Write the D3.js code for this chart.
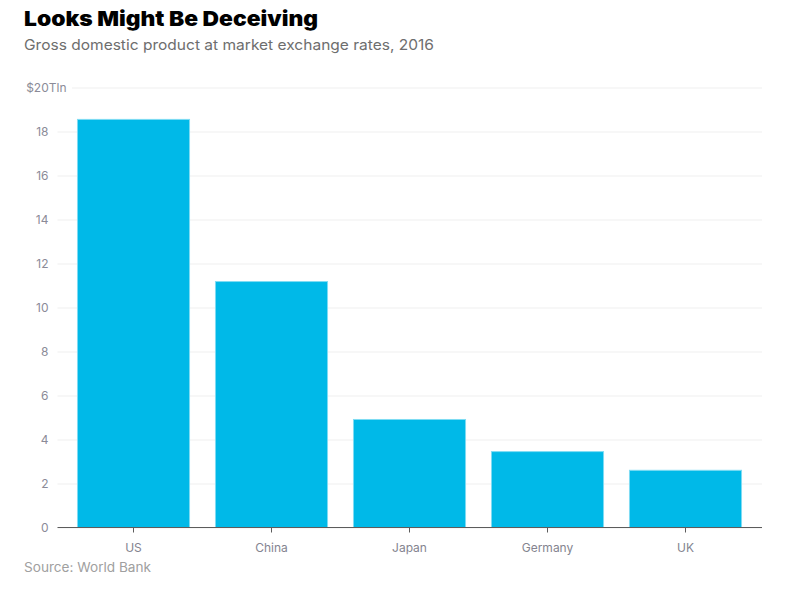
<!DOCTYPE html>
<html lang="en">
<head>
    <meta charset="utf-8">
    <title>Looks Might Be Deceiving</title>
    <script src="https://cdn.jsdelivr.net/npm/d3@7"></script>
    <style>
        body { margin: 0; padding: 0; background-color: #fff; }
        svg { display: block; }
        text { font-family: Inter, sans-serif; }
        .chart-title { font-size: 20.5px; font-weight: 900; fill: #000; }
        .chart-subtitle { font-size: 14.5px; fill: #6e6e6e; }
        .source { font-size: 13px; fill: #a0a0a0; }
        .y-axis text { font-size: 12px; fill: #8b8b98; }
        .x-axis text { font-size: 12px; fill: #84848f; }
        .y-axis .domain { display: none; }
        .y-axis line { stroke: #efefef; }
        .x-axis line, .x-axis .domain { stroke: #5c5c5c; }
        .bar { fill: #00b9e8; stroke: #7fdcf3; stroke-width: 1; }
    </style>
</head>
<body>
    <svg width="795" height="596" id="chart"></svg>
    <script>
        var categories = ["US", "China", "Japan", "Germany", "UK"];
        var gdp = [18.55, 11.18, 4.91, 3.45, 2.6];
        var yTicks = [0, 2, 4, 6, 8, 10, 12, 14, 16, 18, 20];

        var svg = d3.select("#chart"),
            axisLeft = 57.5,
            axisRight = 762;

        var x = d3.scaleBand()
            .domain(categories)
            .range([64.5, 754.5])
            .paddingInner(0.188)
            .paddingOuter(0.094);

        var y = d3.scaleLinear()
            .domain([0, 20])
            .range([527.5, 87.5]);

        // y axis, the long ticks act as grid lines
        var yAxis = svg.append("g")
            .attr("class", "y-axis")
            .attr("transform", "translate(" + axisLeft + ",0)")
            .call(d3.axisLeft(y)
                .tickValues(yTicks)
                .tickSize(0)
                .tickFormat(function (d) { return d === 20 ? "$20Tln" : d; }));

        yAxis.selectAll("line")
            .attr("x1", function (d) { return d === 20 ? 14.5 : 0; })
            .attr("x2", axisRight - axisLeft);

        yAxis.selectAll("text")
            .attr("x", function (d) { return d === 20 ? 9 : -9; })
            .attr("dy", "0.34em");

        svg.selectAll(".bar")
            .data(categories)
            .enter().append("rect")
            .attr("class", "bar")
            .attr("x", function (d) { return x(d); })
            .attr("y", function (d, i) { return y(gdp[i]); })
            .attr("width", x.bandwidth())
            .attr("height", function (d, i) { return y(0) - y(gdp[i]); });

        // x axis
        var xAxis = svg.append("g")
            .attr("class", "x-axis")
            .attr("transform", "translate(0," + y(0) + ")")
            .call(d3.axisBottom(x).tickSize(5).tickSizeOuter(0).tickPadding(11));

        xAxis.select(".domain")
            .attr("d", "M" + axisLeft + ",0H" + axisRight);

        svg.append("text")
            .attr("class", "chart-title")
            .attr("x", 24)
            .attr("y", 26)
            .attr("textLength", 294)
            .attr("lengthAdjust", "spacingAndGlyphs")
            .text("Looks Might Be Deceiving");

        svg.append("text")
            .attr("class", "chart-subtitle")
            .attr("x", 24)
            .attr("y", 50)
            .attr("textLength", 410)
            .attr("lengthAdjust", "spacingAndGlyphs")
            .text("Gross domestic product at market exchange rates, 2016");

        svg.append("text")
            .attr("class", "source")
            .attr("x", 24)
            .attr("y", 572)
            .attr("textLength", 127)
            .attr("lengthAdjust", "spacingAndGlyphs")
            .text("Source: World Bank");
    </script>
</body>
</html>
